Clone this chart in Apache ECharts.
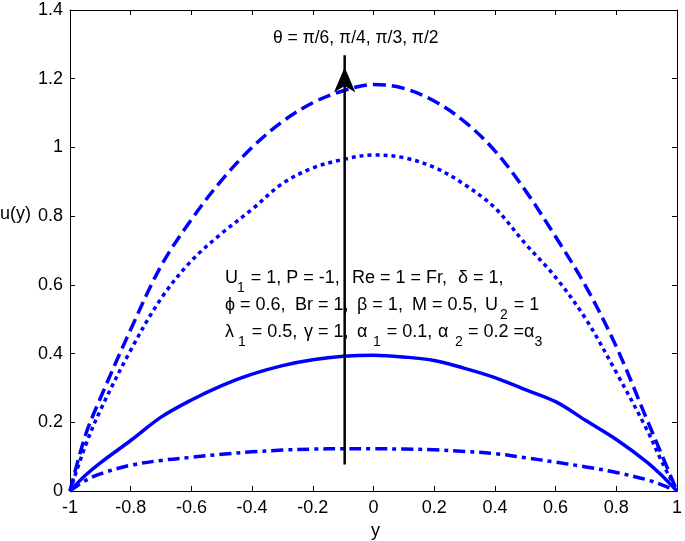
<!DOCTYPE html>
<html>
<head>
<meta charset="utf-8">
<script src="https://cdn.jsdelivr.net/npm/echarts@6/dist/echarts.min.js"></script>
<style>
  html, body { margin: 0; padding: 0; background: #fff; }
  #chart { width: 685px; height: 541px; }
</style>
</head>
<body>
<div id="chart"></div>
<script>
// y positions across the channel
var ys = [-1, -0.95, -0.9, -0.8, -0.7, -0.6, -0.5, -0.4, -0.3, -0.2, -0.1, 0,
  0.1, 0.2, 0.3, 0.4, 0.5, 0.6, 0.7, 0.8, 0.9, 0.95, 1];
// theta = pi/6 (dash-dot)
var uPi6 = [0, 0.03, 0.05, 0.075, 0.089, 0.098, 0.107, 0.114, 0.119, 0.122, 0.123, 0.123,
  0.122, 0.12, 0.115, 0.109, 0.097, 0.084, 0.07, 0.054, 0.033, 0.018, 0];
// theta = pi/4 (solid)
var uPi4 = [0, 0.045, 0.082, 0.147, 0.215, 0.265, 0.307, 0.34, 0.365, 0.382, 0.392, 0.395,
  0.39, 0.38, 0.357, 0.33, 0.295, 0.26, 0.205, 0.15, 0.085, 0.045, 0];
// theta = pi/3 (dotted)
var uPi3 = [0, 0.13, 0.235, 0.41, 0.56, 0.67, 0.75, 0.82, 0.895, 0.94, 0.965, 0.978,
  0.97, 0.942, 0.892, 0.824, 0.72, 0.622, 0.5, 0.345, 0.18, 0.085, 0];
// theta = pi/2 (dashed)
var uPi2 = [0, 0.16, 0.27, 0.47, 0.655, 0.79, 0.905, 1.0, 1.075, 1.13, 1.165, 1.183,
  1.172, 1.135, 1.075, 0.99, 0.875, 0.74, 0.595, 0.42, 0.21, 0.105, 0];
// arrow (start, tip) in data units
var arrowFrom = [-0.095, 0.077];
var arrowTo = [-0.095, 1.268];

var FONT = "Liberation Sans, Arial, sans-serif";
var BLUE = "#0000ff";

function pairs(vals) {
  return ys.map(function (y, i) { return [y, vals[i]]; });
}

function curve(name, vals, dash) {
  return {
    name: name,
    type: "line",
    data: pairs(vals),
    symbol: "none",
    smooth: 0.35,
    z: 3,
    lineStyle: { color: BLUE, width: 3.5, type: dash }
  };
}

var axisCommon = {
  type: "value",
  axisLine: { show: true, onZero: false, lineStyle: { color: "#000", width: 1 } },
  axisTick: { show: true, inside: true, length: 5, lineStyle: { color: "#000" } },
  splitLine: { show: false }
};

// text with subscripts: pieces are [text, isSub, startX (optional)]
var ctx = document.createElement("canvas").getContext("2d");
function textLine(x0, y, size, pieces) {
  var out = [];
  var x = x0;
  pieces.forEach(function (p) {
    var sub = !!p[1];
    if (p[2] != null) x = p[2];
    var font = (sub ? 14 : size) + "px " + FONT;
    ctx.font = font;
    out.push({
      type: "text", x: x, y: sub ? y + 10 : y, z: 1,
      style: { text: p[0], font: font, fill: "#000", verticalAlign: "middle" }
    });
    x += ctx.measureText(p[0]).width + (sub ? 1 : 0);
  });
  return out;
}

var notes = [].concat(
  textLine(273, 38, 17.5, [["θ = π/6, π/4, π/3, π/2"]]),
  textLine(225, 278, 18, [["U"], ["1", 1, 237], [" = 1, P = -1,"], ["Re = 1 = Fr,", 0, 352], ["δ = 1,", 0, 458]]),
  textLine(225, 305, 18, [["ϕ = 0.6,"], ["Br = 1,", 0, 295], ["β = 1,", 0, 357], ["M = 0.5,", 0, 412],
    ["U", 0, 485], ["2", 1, 500], [" = 1"]]),
  textLine(225, 332, 18, [["λ"], ["1", 1, 238], [" = 0.5,"], ["γ = 1,", 0, 304], ["α", 0, 357], ["1", 1, 373],
    [" = 0.1,"], ["α", 0, 438], ["2", 1, 455], ["= 0.2 =", 0, 468], ["α"], ["3", 1]]),
  textLine(0, 214, 18, [["u(y)"]]),
  textLine(371, 531, 18, [["y"]])
);

var chart = echarts.init(document.getElementById("chart"));
chart.setOption({
  animation: false,
  grid: { left: 70, top: 10, width: 612, height: 481 },
  xAxis: [
    Object.assign({}, axisCommon, {
      position: "bottom", min: -1, max: 1, interval: 0.2,
      axisLabel: { color: "#000", fontSize: 18, fontFamily: FONT, margin: 8 }
    }),
    Object.assign({}, axisCommon, {
      position: "top", min: -1, max: 1, interval: 0.2,
      axisLabel: { show: false }
    })
  ],
  yAxis: [
    Object.assign({}, axisCommon, {
      position: "left", min: 0, max: 1.4, interval: 0.2,
      axisLabel: { color: "#000", fontSize: 18, fontFamily: FONT, margin: 7 }
    }),
    Object.assign({}, axisCommon, {
      position: "right", min: 0, max: 1.4, interval: 0.2,
      axisLabel: { show: false }
    })
  ],
  series: [
    curve("θ = π/6", uPi6, [12, 5, 4, 5]),
    curve("θ = π/4", uPi4, "solid"),
    curve("θ = π/3", uPi3, [4, 4]),
    curve("θ = π/2", uPi2, [13, 6]),
    {
      // arrow shaft
      type: "line",
      data: [arrowFrom, arrowTo],
      symbol: "none",
      silent: true,
      z: 5,
      lineStyle: { color: "#000", width: 2.5 }
    },
    {
      // arrow head, tip at arrowTo
      type: "scatter",
      data: [arrowTo],
      symbol: "arrow",
      symbolSize: [16, 25],
      symbolOffset: [0, 12],
      silent: true,
      z: 5,
      itemStyle: { color: "#000", opacity: 1 }
    }
  ],
  graphic: notes
});
</script>
</body>
</html>
